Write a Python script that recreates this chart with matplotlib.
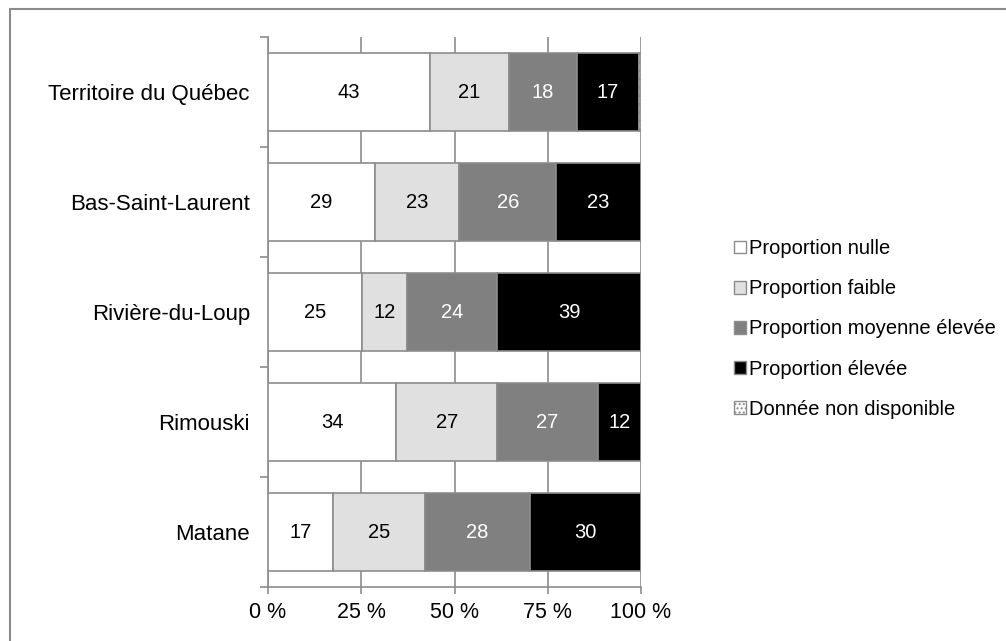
import matplotlib
matplotlib.use("Agg")
import matplotlib.pyplot as plt
from matplotlib.patches import Rectangle, Patch
import numpy as np

plt.rcParams['font.family'] = ['Liberation Sans', 'DejaVu Sans']
plt.rcParams['hatch.color'] = '#a0a0a0'
plt.rcParams['hatch.linewidth'] = 1.0

categories = ["Territoire du Québec", "Bas-Saint-Laurent", "Rivière-du-Loup", "Rimouski", "Matane"]
series_names = ["Proportion nulle", "Proportion faible", "Proportion moyenne élevée",
                "Proportion élevée", "Donnée non disponible"]
nulle = [43.4, 28.7, 25.2, 34.4, 17.4]
faible = [21.2, 22.6, 12.1, 27.0, 24.7]
moyenne = [18.2, 26.0, 24.1, 27.1, 28.1]
elevee = [16.6, 22.7, 38.6, 11.5, 29.8]
non_dispo = [0.6, 0.0, 0.0, 0.0, 0.0]
xticklabels = ["0 %", "25 %", "50 %", "75 %", "100 %"]

series = [nulle, faible, moyenne, elevee, non_dispo]
fills = ["#ffffff", "#e0e0e0", "#808080", "#000000", "#ffffff"]
txtcol = ["black", "black", "white", "white", None]
hatches = [None, None, None, None, "...."]
edge = "#8c8c8c"

fig = plt.figure(figsize=(10.06, 6.41), dpi=100)
W, H = 1006, 641
# outer frame
fig.patches.append(Rectangle((10 / W, -0.05), 1.1, 1 - 9 / H + 0.05, transform=fig.transFigure,
                             fill=False, edgecolor="#8c8c8c", linewidth=1.5, zorder=0))

ax = fig.add_axes([268 / W, 1 - 587 / H, 373 / W, 550 / H])
n = len(categories)
y = np.arange(n)
left = np.zeros(n)
for vals, fc, tc, h in zip(series, fills, txtcol, hatches):
    vals = np.array(vals)
    ax.barh(y, vals, left=left, height=0.71, color=fc, edgecolor=edge,
            linewidth=1.2, hatch=h, zorder=3)
    if tc is not None:
        for yi, l, v in zip(y, left, vals):
            ax.text(l + v / 2, yi, "%.0f" % v, ha="center", va="center",
                    color=tc, fontsize=14.5, zorder=4)
    left = left + vals

ax.set_xlim(0, 100)
ax.set_ylim(n - 0.5, -0.5)
ax.set_xticks([0, 25, 50, 75, 100])
ax.set_xticklabels(xticklabels, fontsize=15.5)
ax.set_yticks(y)
ax.set_yticklabels(categories, fontsize=16)
ax.set_yticks(np.arange(n + 1) - 0.5, minor=True)
ax.tick_params(axis="y", which="minor", length=6, color=edge, width=1.2)
ax.tick_params(axis="y", which="major", length=0, pad=13)
ax.tick_params(axis="x", length=5, color=edge, width=1.2, pad=6)
ax.grid(axis="x", color=edge, linewidth=1.2, zorder=1)
ax.set_axisbelow(True)
for s in ["top", "right"]:
    ax.spines[s].set_visible(False)
for s in ["left", "bottom"]:
    ax.spines[s].set_color(edge)
    ax.spines[s].set_linewidth(1.2)

handles = [Patch(facecolor=fc, edgecolor=edge, hatch=h, linewidth=1.0)
           for fc, h in zip(fills, hatches)]
leg = fig.legend(handles, series_names, loc="upper left", bbox_to_anchor=(724 / W, 1 - 229 / H),
                 frameon=False, fontsize=14.5, handlelength=0.6, handleheight=0.6,
                 handletextpad=0.12, labelspacing=1.05, borderpad=0)

fig.savefig("out.png", dpi=100)
